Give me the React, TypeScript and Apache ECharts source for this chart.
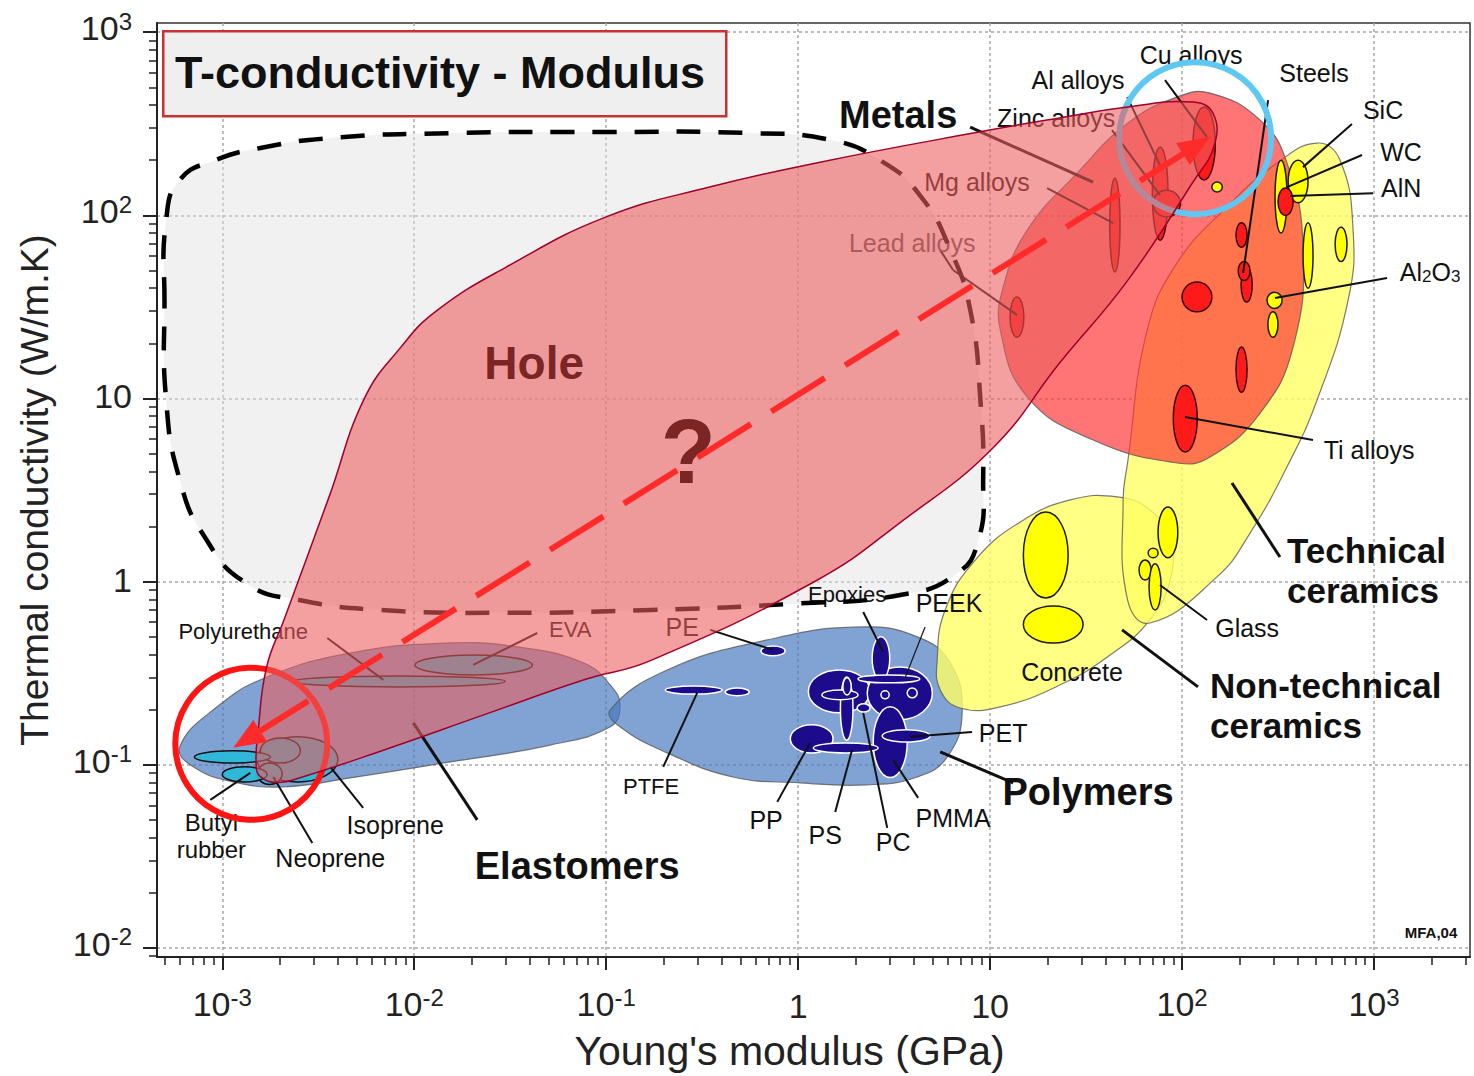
import React, { useEffect, useRef } from 'react';
import * as echarts from 'echarts';

const FONT = "'Liberation Sans', Arial, Helvetica, sans-serif";

// ---------- Axes: Young's modulus E (GPa) vs thermal conductivity k (W/m.K), both log ----------
const xTickValues = [1e-3, 1e-2, 1e-1, 1, 10, 100, 1000];
const yTickValues = [1e-2, 1e-1, 1, 10, 100, 1000];
const xRange = [4.57e-4, 3162];
const yRange = [8.91e-3, 1122];

// ---------- Family envelopes, outline points [E, k] ----------
const elastomersEnvelope = [
  [6.0e-4, 0.125], [9.4e-4, 0.207], [1.71e-3, 0.301], [4.64e-3, 0.407], [0.0154, 0.462],
  [0.0344, 0.44], [0.0759, 0.36], [0.107, 0.266], [0.118, 0.207], [0.105, 0.161],
  [0.0511, 0.128], [0.0154, 0.1035], [4.64e-3, 0.0847], [2.08e-3, 0.0757], [1.14e-3, 0.0805],
  [7.06e-4, 0.0973],
];
const polymersEnvelope = [
  [0.105, 0.199], [0.208, 0.329], [0.69, 0.48], [2.1, 0.565], [4.17, 0.499], [6.19, 0.36],
  [7.15, 0.192], [5.97, 0.11], [4.17, 0.0857], [2.29, 0.0776], [1.02, 0.0796], [0.458, 0.0857],
  [0.208, 0.116], [0.118, 0.161],
];
const nonTechCeramicsEnvelope = [
  [5.3, 0.373], [5.83, 0.7], [8.36, 1.31], [14.3, 2.11], [26.1, 2.79], [45.8, 2.9], [68, 2.46],
  [86.6, 1.69], [86.6, 1.02], [68, 0.617], [42.2, 0.397], [23.2, 0.273], [11.3, 0.207],
  [6.98, 0.204], [5.5, 0.256],
];
const techCeramicsEnvelope = [
  [505, 248], [665, 200], [778, 83], [733, 34.4], [505, 9.8], [352, 4.23], [226, 1.84],
  [152, 1.06], [68, 0.594], [52, 0.794], [49.3, 2.79], [52, 4.44], [65.8, 23.6], [94, 54.8],
  [171, 111], [313, 193],
];
const metalsEnvelope = [
  [11.7, 40.5], [11.3, 23.6], [15.6, 10.2], [34.4, 5.93], [94.2, 4.44], [140, 4.79], [255, 8.32],
  [379, 19.1], [427, 67], [352, 193], [255, 331], [140, 465], [94, 442], [52, 318], [28.4, 170],
  [15.6, 83],
];
// The highlighted bridge from elastomers to metals
const bridgeRegion = [
  [1.5e-3, 0.1], [1.54e-3, 0.155], [1.7e-3, 0.34], [2.1e-3, 0.62], [3.6e-3, 2.9], [5.5e-3, 10],
  [8.5e-3, 19], [0.013, 30], [0.03, 52], [0.1, 98], [0.35, 143], [1.3, 195], [9.6, 290],
  [23, 340], [52, 390], [114, 415], [145, 360], [147, 240], [114, 152], [52, 44], [23, 15.6],
  [10.4, 5.4], [3.4, 2.1], [1.26, 1.02], [0.17, 0.37], [0.076, 0.29], [0.023, 0.187],
  [6.9e-3, 0.12], [2.64e-3, 0.086], [1.93e-3, 0.08], [1.58e-3, 0.086],
];
// The empty "hole" region
const holeRegion = [
  [5e-4, 34], [5.1e-4, 94], [6.0e-4, 156], [9.2e-4, 200], [1.58e-3, 233], [3.65e-3, 264],
  [0.0154, 281], [0.093, 285], [0.56, 281], [1.47, 258], [2.67, 200], [4.3, 129], [6.2, 65],
  [7.9, 30], [8.9, 9.8], [9.2, 3.6], [8.7, 1.69], [6.6, 1.09], [3.4, 0.845], [1.02, 0.76],
  [0.17, 0.7], [0.028, 0.675], [6.65e-3, 0.7], [2.55e-3, 0.79], [1.33e-3, 0.98], [8.1e-4, 1.75],
  [6.0e-4, 3.6], [5.1e-4, 9.8],
];

// ---------- Material bubbles: [Emin, Emax, kmin, kmax] ----------
const ceramicBubbles = [
  [143, 162, 134, 152], [305, 352, 80, 200], [357, 453, 117, 200], [427, 481, 40, 91],
  [627, 723, 56, 86], [277, 332, 31, 38], [280, 316, 21.6, 29.7],
  [75, 95, 1.35, 2.55], [66.6, 75, 1.35, 1.52], [59.7, 69, 1.02, 1.31], [67.3, 77.8, 0.7, 1.25],
  [14.9, 25.5, 0.814, 2.4], [14.9, 30.5, 0.462, 0.736],
];
const metalBubbles = [
  [12.7, 15, 21.6, 35.8], [42, 47.5, 49, 160], [70, 84.5, 73, 236], [70.6, 98, 98, 137],
  [114, 149, 156, 390], [191, 218, 67, 91], [203, 232, 33.6, 52], [196, 226, 44, 56],
  [100, 143, 29.7, 43.2], [191, 218, 10.8, 19.1], [90, 120, 5.1, 11.8], [316, 379, 100, 141],
];
const polymerBubbles = [
  [0.64, 0.855, 0.393, 0.445], [0.203, 0.402, 0.243, 0.269], [0.417, 0.556, 0.238, 0.262],
  [1.13, 2.37, 0.192, 0.329], [2.29, 5.0, 0.176, 0.342], [2.46, 3.7, 0.085, 0.207],
  [0.91, 1.52, 0.116, 0.165], [1.66, 1.93, 0.136, 0.301], [2.43, 3.0, 0.29, 0.5],
  [2.05, 4.3, 0.28, 0.309], [1.33, 2.05, 0.226, 0.256], [1.71, 1.89, 0.24, 0.298],
  [2.03, 2.37, 0.194, 0.215], [2.7, 2.98, 0.229, 0.253], [3.7, 4.17, 0.232, 0.262],
  [1.2, 2.61, 0.116, 0.1315], [2.74, 4.87, 0.133, 0.155],
];
const elastomerBubbles = [
  [0.0101, 0.0412, 0.309, 0.397], [2.34e-3, 0.0298, 0.266, 0.305], [1.52e-3, 4.0e-3, 0.0805, 0.142],
  [1.58e-3, 2.55e-3, 0.102, 0.14], [1.52e-3, 2.05e-3, 0.078, 0.102], [7.15e-4, 1.78e-3, 0.102, 0.119],
  [1e-3, 1.71e-3, 0.0805, 0.0973],
];

// ---------- Annotations, anchors in log10 units [log E, log k] ----------
const labelTexts = [
  'Cu alloys', 'Al alloys', 'Zinc alloys', 'Steels', 'SiC', 'WC', 'AlN', 'Ti alloys', 'Glass',
  'Concrete', 'Mg alloys', 'Lead alloys', 'Polyurethane', 'EVA', 'PE', 'Epoxies', 'PEEK', 'PET',
  'PTFE', 'PP', 'PS', 'PC', 'PMMA', 'Isoprene', 'Neoprene', 'Butyl\nrubber', 'Metals',
  'Technical\nceramics', 'Non-technical\nceramics', 'Polymers', 'Elastomers', 'MFA,04',
];
const labelAnchors = [
  [2.047, 2.874], [1.458, 2.738], [1.344, 2.531], [2.6875, 2.776], [3.047, 2.574], [3.141, 2.345],
  [3.141, 2.148], [2.974, 0.718], [2.339, -0.253], [1.427, -0.493], [0.932, 2.181], [0.594, 1.848],
  [-2.891, -0.275], [-1.1875, -0.264], [-0.604, -0.248], [0.255, -0.073], [0.786, -0.117],
  [1.068, -0.826], [-0.766, -1.121], [-0.167, -1.301], [0.141, -1.383], [0.495, -1.421],
  [0.807, -1.29], [-2.099, -1.329], [-2.4375, -1.509], [-3.057, -1.389], [0.521, 2.547],
  [2.547, 0.063], [2.146, -0.679], [1.51, -1.148], [-1.151, -1.552], [3.297, -1.918],
];
const leaderLines = [
  [1.911, 2.738, 2.13, 2.427], [1.714, 2.645, 1.885, 2.274], [1.635, 2.465, 1.885, 2.11],
  [2.448, 2.629, 2.318, 1.685], [2.885, 2.498, 2.63, 2.263], [2.9375, 2.329, 2.547, 2.154],
  [2.995, 2.121, 2.5625, 2.105], [3.068, 1.657, 2.484, 1.548], [2.682, 0.773, 2.016, 0.898],
  [2.13, -0.21, 1.885, -0.0186], [0.896, 2.481, 1.536, 2.181], [1.297, 2.148, 1.641, 1.957],
  [0.74, 1.81, 0.807, 1.701], [0.807, 1.701, 1.141, 1.455], [2.51, 0.134, 2.26, 0.538],
  [2.083, -0.575, 1.6875, -0.264], [1.12, -1.099, 0.74, -0.93], [0.906, -0.821, 0.583, -0.848],
  [0.661, -0.248, 0.557, -0.526], [0.339, -0.166, 0.443, -0.384], [-0.458, -0.264, -0.13, -0.373],
  [-0.703, -1.012, -0.526, -0.608], [-0.109, -1.203, 0.0625, -0.881], [0.193, -1.258, 0.281, -0.919],
  [0.464, -1.345, 0.339, -0.717], [0.625, -1.181, 0.495, -0.974], [-2.453, -0.308, -2.161, -0.537],
  [-1.359, -0.281, -1.693, -0.455], [-1.672, -1.301, -2.005, -0.772], [-2.266, -1.236, -2.4375, -1.012],
  [-2.531, -1.427, -2.734, -1.067], [-3.0625, -1.192, -2.854, -1.045],
];
const alumina = [3.292, 1.69];
const holeTextAnchor = [-1.375, 1.193];
const questionAnchor = [-0.573, 0.707];
const arrowEnds = [[-2.943, -0.908], [2.146, 2.427]];
const ringCenters = [[-2.849, -0.886], [2.068, 2.421]];

// ---------- styles (kept apart from the data) ----------
const labelSize = [25, 25, 25, 25, 25, 25, 25, 25, 25, 25, 25, 25, 22, 22, 25, 22, 25, 25, 22, 25, 25, 25, 25, 25, 25, 24, 38, 35, 35, 38, 38, 15];
const boldLabels = new Set(['Metals', 'Technical\nceramics', 'Non-technical\nceramics', 'Polymers', 'Elastomers', 'MFA,04']);
const leftLabels = new Set(['Technical\nceramics', 'Non-technical\nceramics']);
const thickLeaders = new Set([10, 14, 15, 16, 28]);
const ringColors = ['#ff1414', '#5ec8f2'];

const L = (a: number[]) => [Math.pow(10, a[0]), Math.pow(10, a[1])];

const minorValues = (lo: number, hi: number) => {
  const out: number[] = [];
  for (let e = -5; e <= 4; e++) {
    for (let m = 2; m <= 9; m++) {
      const v = m * Math.pow(10, e);
      if (v >= lo && v <= hi) out.push(v);
    }
  }
  return out;
};

const powLabel = (v: number) => {
  const e = Math.round(Math.log10(v));
  if (e === 0) return '{p|1}';
  if (e === 1) return '{p|10}';
  return '{b|10}{s|' + e + '}';
};
const tickRich = {
  b: { fontSize: 34, fontFamily: FONT, color: '#222', lineHeight: 36, verticalAlign: 'bottom' },
  s: { fontSize: 24, fontFamily: FONT, color: '#222', lineHeight: 26, verticalAlign: 'top', padding: [0, 0, 16, 0] },
  p: { fontSize: 34, fontFamily: FONT, color: '#222', lineHeight: 36, padding: [6, 0, 0, 0] },
};

function layer(items: any[], pointOf: (d: any) => number[], build: (d: any, api: any, i: number) => any) {
  return {
    type: 'custom',
    coordinateSystem: 'cartesian2d',
    silent: true,
    clip: false,
    data: items.map(pointOf),
    renderItem: (params: any, api: any) => build(items[params.dataIndex], api, params.dataIndex),
  };
}

const bubbleLayer = (items: number[][], fill: string, stroke: string) =>
  layer(items, (r) => [Math.sqrt(r[0] * r[1]), Math.sqrt(r[2] * r[3])], (r, api) => {
    const a = api.coord([r[0], r[2]]);
    const b = api.coord([r[1], r[3]]);
    return {
      type: 'ellipse',
      shape: { cx: (a[0] + b[0]) / 2, cy: (a[1] + b[1]) / 2, rx: Math.abs(b[0] - a[0]) / 2, ry: Math.abs(b[1] - a[1]) / 2 },
      style: { fill, stroke, lineWidth: 1.5 },
    };
  });

const polyLayer = (pts: number[][], style: any, smooth = 0.45) =>
  layer([pts], (p) => p[0], (p, api) => ({
    type: 'polygon',
    shape: { points: p.map((q: number[]) => api.coord(q)), smooth },
    style,
  }));

const envelopeStyles = [
  { pts: elastomersEnvelope, fill: 'rgba(70,120,190,0.68)' },
  { pts: polymersEnvelope, fill: 'rgba(70,120,190,0.68)' },
  { pts: nonTechCeramicsEnvelope, fill: 'rgba(255,255,100,0.8)' },
  { pts: techCeramicsEnvelope, fill: 'rgba(255,255,100,0.8)' },
  { pts: metalsEnvelope, fill: 'rgba(255,50,50,0.68)' },
];

function buildOption() {
  const series: any[] = [];
  envelopeStyles.forEach((e) =>
    series.push(polyLayer(e.pts, { fill: e.fill, stroke: 'rgba(90,90,90,0.8)', lineWidth: 1.2 }))
  );
  series.push(bubbleLayer(ceramicBubbles, '#ffff00', '#1a1a1a'));
  series.push(bubbleLayer(metalBubbles, '#ff1a1a', '#3a0000'));
  series.push(bubbleLayer(polymerBubbles, '#1c0c8c', '#ffffff'));
  series.push(bubbleLayer(elastomerBubbles, 'rgba(40,185,215,0.9)', '#111111'));

  // hole region fill (under the labels)
  series.push(polyLayer(holeRegion, { fill: 'rgba(225,225,225,0.45)', stroke: 'none' }, 0.5));

  // leader lines
  series.push(
    layer(leaderLines, (l) => [Math.pow(10, l[0]), Math.pow(10, l[1])], (l, api, i) => {
      const a = api.coord(L([l[0], l[1]]));
      const b = api.coord(L([l[2], l[3]]));
      return {
        type: 'line',
        shape: { x1: a[0], y1: a[1], x2: b[0], y2: b[1] },
        style: { stroke: '#111', lineWidth: thickLeaders.has(i) ? 3 : i === 18 ? 1.2 : 2 },
      };
    })
  );

  // labels
  series.push(
    layer(labelTexts, (t) => L(labelAnchors[labelTexts.indexOf(t)]), (t, api, i) => {
      const p = api.coord(L(labelAnchors[i]));
      const size = labelSize[i];
      const multi = t.indexOf('\n') >= 0;
      return {
        type: 'text',
        x: p[0],
        y: p[1],
        style: {
          text: t,
          fill: t === 'Lead alloys' ? '#555555' : '#111111',
          fontSize: size,
          fontWeight: boldLabels.has(t) ? 'bold' : 'normal',
          fontFamily: FONT,
          align: leftLabels.has(t) ? 'left' : 'center',
          verticalAlign: 'middle',
          lineHeight: t === 'Butyl\nrubber' ? 27 : multi ? Math.round(size * 1.15) : size,
        },
      };
    })
  );

  // Al2O3 label with subscripts
  series.push(
    layer([alumina], (a) => L(a), (a, api) => {
      const p = api.coord(L(a));
      return {
        type: 'text',
        x: p[0],
        y: p[1],
        style: {
          text: '{n|Al}{s|2}{n|O}{s|3}',
          align: 'center',
          verticalAlign: 'middle',
          rich: {
            n: { fontSize: 25, fontFamily: FONT, fill: '#111', lineHeight: 26, verticalAlign: 'top' },
            s: { fontSize: 17, fontFamily: FONT, fill: '#111', lineHeight: 18, verticalAlign: 'bottom', padding: [12, 0, 0, 0] },
          },
        },
      };
    })
  );

  // hole region dashed outline
  series.push(polyLayer(holeRegion, { fill: 'none', stroke: '#000', lineWidth: 4.5, lineDash: [24, 18] }, 0.5));

  // highlight rings
  series.push(
    layer(ringCenters, (c) => L(c), (c, api, i) => {
      const p = api.coord(L(c));
      return {
        type: 'circle',
        shape: { cx: p[0], cy: p[1], r: 76 },
        style: { fill: 'none', stroke: ringColors[i], lineWidth: 6 },
      };
    })
  );

  // bridge region
  series.push(
    polyLayer(bridgeRegion, { fill: 'rgba(236,94,94,0.59)', stroke: '#a0002a', lineWidth: 1.5 }, 0.45)
  );

  // Hole / ? texts
  series.push(
    layer([holeTextAnchor, questionAnchor], (c) => L(c), (c, api, i) => {
      const p = api.coord(L(c));
      return {
        type: 'text',
        x: p[0],
        y: p[1],
        style: {
          text: i === 0 ? 'Hole' : '?',
          fill: '#7b2525',
          fontSize: i === 0 ? 46 : 90,
          fontWeight: 'bold',
          fontFamily: FONT,
          align: 'center',
          verticalAlign: 'middle',
        },
      };
    })
  );

  // dashed double arrow
  series.push(
    layer([arrowEnds], (e) => L(e[0]), (e, api) => {
      const a = api.coord(L(e[0]));
      const b = api.coord(L(e[1]));
      const dx = b[0] - a[0];
      const dy = b[1] - a[1];
      const len = Math.hypot(dx, dy);
      const ux = dx / len;
      const uy = dy / len;
      const nx = -uy;
      const ny = ux;
      const hl = 32;
      const hw = 13;
      const head = (tip: number[], dir: number) => [
        [tip[0], tip[1]],
        [tip[0] - dir * ux * hl + nx * hw, tip[1] - dir * uy * hl + ny * hw],
        [tip[0] - dir * ux * hl - nx * hw, tip[1] - dir * uy * hl - ny * hw],
      ];
      return {
        type: 'group',
        children: [
          {
            type: 'line',
            shape: { x1: a[0] + ux * hl * 0.8, y1: a[1] + uy * hl * 0.8, x2: b[0] - ux * hl * 0.8, y2: b[1] - uy * hl * 0.8 },
            style: { stroke: '#ff2b2b', lineWidth: 6, lineDash: [63, 24] },
          },
          { type: 'polygon', shape: { points: head(b, 1) }, style: { fill: '#ff2b2b' } },
          { type: 'polygon', shape: { points: head(a, -1) }, style: { fill: '#ff2b2b' } },
        ],
      };
    })
  );

  const axisCommon = {
    type: 'log',
    logBase: 10,
    axisLine: { show: true, onZero: false, lineStyle: { color: '#222', width: 2 } },
    splitLine: { show: true, lineStyle: { color: '#a8a8a8', width: 1.5, type: [3, 3] } },
    minorTick: { show: false },
    minorSplitLine: { show: false },
  };

  return {
    animation: false,
    backgroundColor: '#ffffff',
    textStyle: { fontFamily: FONT },
    grid: { left: 157, top: 23, right: 4, bottom: 119, show: true, borderColor: '#333', borderWidth: 1.5 },
    xAxis: [
      {
        ...axisCommon,
        min: xRange[0],
        max: xRange[1],
        name: "Young's modulus (GPa)",
        nameLocation: 'middle',
        nameGap: 73,
        nameTextStyle: { fontSize: 41, fontFamily: FONT, color: '#222', padding: [0, 48, 0, 0] },
        axisTick: { show: true, inside: false, length: 13, customValues: xTickValues, lineStyle: { color: '#222', width: 2 } },
        axisLabel: { customValues: xTickValues, margin: 28, formatter: powLabel, rich: tickRich },
      },
      {
        type: 'log',
        logBase: 10,
        min: xRange[0],
        max: xRange[1],
        position: 'bottom',
        axisLine: { show: false },
        axisLabel: { show: false },
        splitLine: { show: false },
        axisTick: { show: true, inside: false, length: 8, customValues: minorValues(xRange[0], xRange[1]), lineStyle: { color: '#222', width: 1.5 } },
      },
    ],
    yAxis: [
      {
        ...axisCommon,
        min: yRange[0],
        max: yRange[1],
        name: 'Thermal conductivity (W/m.K)',
        nameLocation: 'middle',
        nameGap: 103,
        nameTextStyle: { fontSize: 39, fontFamily: FONT, color: '#222' },
        axisTick: { show: true, inside: false, length: 14, customValues: yTickValues, lineStyle: { color: '#222', width: 2 } },
        axisLabel: { customValues: yTickValues, margin: 25, formatter: powLabel, rich: tickRich, align: 'right', padding: [0, 0, 10, 0] },
      },
      {
        type: 'log',
        logBase: 10,
        min: yRange[0],
        max: yRange[1],
        position: 'left',
        axisLine: { show: false },
        axisLabel: { show: false },
        splitLine: { show: false },
        axisTick: { show: true, inside: false, length: 8, customValues: minorValues(yRange[0], yRange[1]), lineStyle: { color: '#222', width: 1.5 } },
      },
    ],
    graphic: [
      {
        type: 'rect',
        left: 162,
        top: 30,
        z: 100,
        shape: { width: 563, height: 85 },
        style: { fill: '#efefef', stroke: '#c83232', lineWidth: 2.5 },
      },
      {
        type: 'text',
        x: 175,
        y: 72,
        z: 101,
        style: {
          text: 'T-conductivity - Modulus',
          fill: '#111',
          fontSize: 45,
          fontWeight: 'bold',
          fontFamily: FONT,
          align: 'left',
          verticalAlign: 'middle',
        },
      },
    ],
    series,
  };
}

export default function App() {
  const ref = useRef<HTMLDivElement>(null);
  useEffect(() => {
    if (!ref.current) return;
    const chart = echarts.init(ref.current, null, { renderer: 'svg' });
    chart.setOption(buildOption() as any);
    return () => chart.dispose();
  }, []);
  return (
    <div
      ref={ref}
      style={{ position: 'fixed', left: 0, top: 0, width: 1474, height: 1076, background: '#fff' }}
    />
  );
}
